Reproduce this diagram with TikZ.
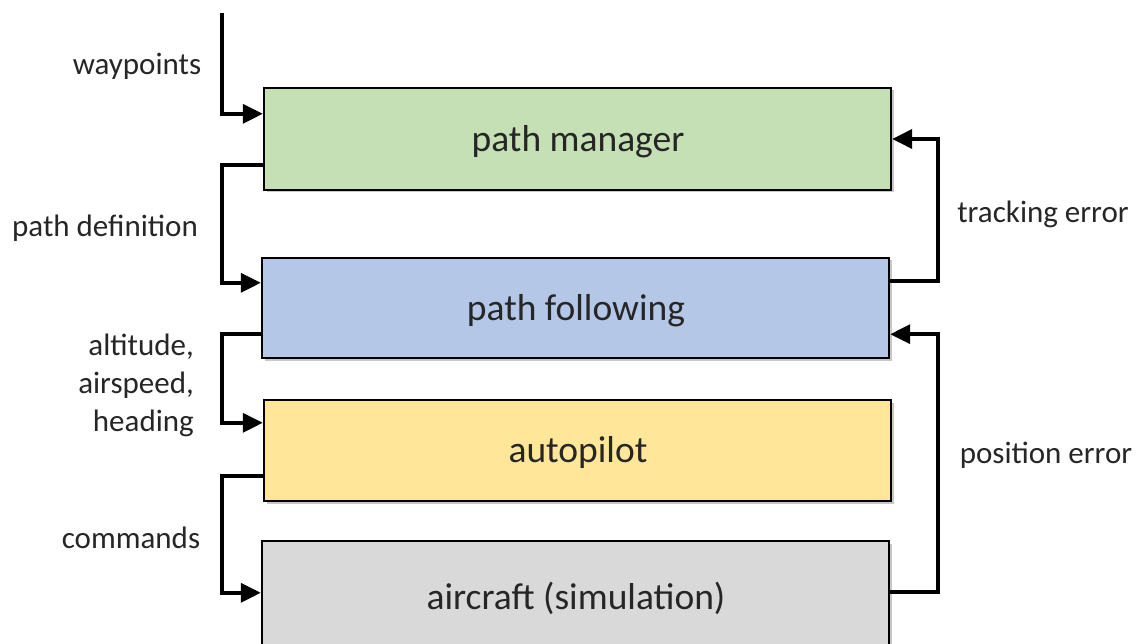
\documentclass[tikz,border=0pt]{standalone}
\usepackage{fontspec}
\setmainfont{Carlito}
\usetikzlibrary{arrows.meta,shadows}
\definecolor{txt}{HTML}{262626}
\definecolor{cgreen}{HTML}{C5E0B4}
\definecolor{cblue}{HTML}{B4C7E7}
\definecolor{cyellow}{HTML}{FFE699}
\definecolor{cgray}{HTML}{D9D9D9}
\tikzset{
  block/.style={draw=black, line width=2.4pt, minimum width=627pt,
    inner sep=0pt, text=txt,
    drop shadow={shadow xshift=2.5pt, shadow yshift=-2.5pt, opacity=0.22, fill=black}},
  blocktext/.style={font=\fontsize{37.5}{42}\selectfont, text=txt, inner sep=0pt},
  conn/.style={draw=black, line width=3.6pt,
    -{Triangle[length=20pt,width=19pt]}},
  lbl/.style={font=\fontsize{31}{38}\selectfont, text=txt, inner sep=0pt}
}
\begin{document}
\begin{tikzpicture}[x=1pt,y=-1pt]
\useasboundingbox (0,0) rectangle (1143,644);
\fill[white] (0,0) rectangle (1143,644);
\begin{scope}
\clip (0,0) rectangle (1143,644);
% the four processing stages
\node[block, fill=cgreen,  minimum height=102pt] (pm) at (577.5,139) {};
\node[block, fill=cblue,   minimum height=100pt] (pf) at (575.5,308) {};
\node[block, fill=cyellow, minimum height=101pt] (ap) at (577.5,450.5) {};
\node[block, fill=cgray,   minimum height=110pt] (ac) at (575.5,596) {};
\node[blocktext] (pm-t) at (578,142) {path manager};
\node[blocktext] (pf-t) at (576,311) {path following};
\node[blocktext] (ap-t) at (578,453) {autopilot};
\node[blocktext] (ac-t) at (576,598) {aircraft (simulation)};

% bus lines on either side
\coordinate (lx) at (222,0);
\coordinate (rx) at (938,0);
\coordinate (wp) at (222,13);

% ports on the blocks
\coordinate (pm-in)  at ([yshift=-27pt]pm.north west);
\coordinate (pm-out) at ([yshift=26pt]pm.south west);
\coordinate (pm-fb)  at (pm.east);
\coordinate (pf-in)  at ([yshift=-26pt]pf.north west);
\coordinate (pf-out) at ([yshift=25pt]pf.south west);
\coordinate (pf-err) at ([yshift=-24pt]pf.north east);
\coordinate (pf-fb)  at ([yshift=25pt]pf.south east);
\coordinate (ap-in)  at ([yshift=-24pt]ap.north west);
\coordinate (ap-out) at ([yshift=26pt]ap.south west);
\coordinate (ac-in)  at ([yshift=-53pt]ac.north west);
\coordinate (ac-err) at ([yshift=-52pt]ac.north east);

% forward path
\draw[conn] (wp) |- (pm-in);
\draw[conn] (pm-out) -- (pm-out -| lx) |- (pf-in);
\draw[conn] (pf-out) -- (pf-out -| lx) |- (ap-in);
\draw[conn] (ap-out) -- (ap-out -| lx) |- (ac-in);

% feedback path
\draw[conn] (pf-err) -- (pf-err -| rx) |- (pm-fb);
\draw[conn] (ac-err) -- (ac-err -| rx) |- (pf-fb);
\end{scope}

% signal labels
\node[lbl] (l-wp)  at (137,66)  {waypoints};
\node[lbl] (l-pd)  at (105,228) {path definition};
\node[lbl, align=right, anchor=east] (l-cmd) at (194,385) {altitude,\\airspeed,\\heading};
\node[lbl] (l-com) at (131,538) {commands};
\node[lbl] (l-te)  at (1043,214) {tracking error};
\node[lbl] (l-pe)  at (1046,455) {position error};
\end{tikzpicture}
\end{document}
